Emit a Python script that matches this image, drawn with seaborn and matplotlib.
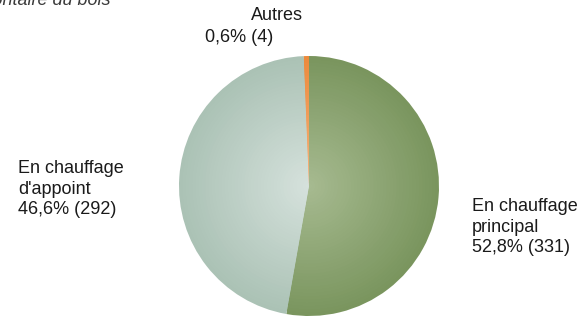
import matplotlib
matplotlib.use("Agg")
import matplotlib.pyplot as plt
import seaborn as sns
import numpy as np

sns.set_theme(style="white")
plt.rcParams['font.family'] = ['Liberation Sans', 'DejaVu Sans']

# Data
categories = ["En chauffage principal", "En chauffage d'appoint", "Autres"]
counts = [331, 292, 4]
percents = ["52,8%", "46,6%", "0,6%"]
edge_colors = ["#7a955e", "#abc2b5", "#ec8a3c"]
center_colors = ["#a6ba90", "#d5e1dc", "#f6b27c"]

W, H = 581, 316
fig = plt.figure(figsize=(W / 100, H / 100), dpi=100)
cx, cy, r = 309, 186, 130
ax = fig.add_axes([(cx - r) / W, (H - cy - r) / H, 2 * r / W, 2 * r / H])
ax.set_xlim(-1, 1)
ax.set_ylim(-1, 1)
ax.set_aspect("equal")
ax.axis("off")

# radial gradient via concentric pies
n = 40
pals = [sns.blend_palette([e, c], n) for e, c in zip(edge_colors, center_colors)]
radii = np.linspace(1.0, 1.0 / n, n)
for i, rad in enumerate(radii):
    ax.pie(counts, radius=rad, colors=[p[i] for p in pals], startangle=90,
           counterclock=False, wedgeprops=dict(linewidth=0), frame=False)
ax.set_xlim(-1, 1)
ax.set_ylim(-1, 1)

txt = dict(fontsize=13, color="#1a1a1a")
def fx(px):
    return px / W
def fy(py):
    return 1 - py / H

fig.text(fx(18), fy(189), f"En chauffage\nd'appoint\n{percents[1]} ({counts[1]})",
         ha="left", va="center", linespacing=1.25, **txt)
fig.text(fx(472), fy(227), f"En chauffage\nprincipal\n{percents[0]} ({counts[0]})",
         ha="left", va="center", linespacing=1.25, **txt)
fig.text(fx(251), fy(16), categories[2], ha="left", va="center", **txt)
fig.text(fx(205), fy(38), f"{percents[2]} ({counts[2]})", ha="left", va="center", **txt)

# cut-off title fragment at top
fig.text(fx(110), fy(5), "Répartition selon l'usage majoritaire du bois",
         ha="right", va="baseline", fontsize=13, style="italic", color="#3a3a3a")

fig.savefig("out.png", dpi=100)
